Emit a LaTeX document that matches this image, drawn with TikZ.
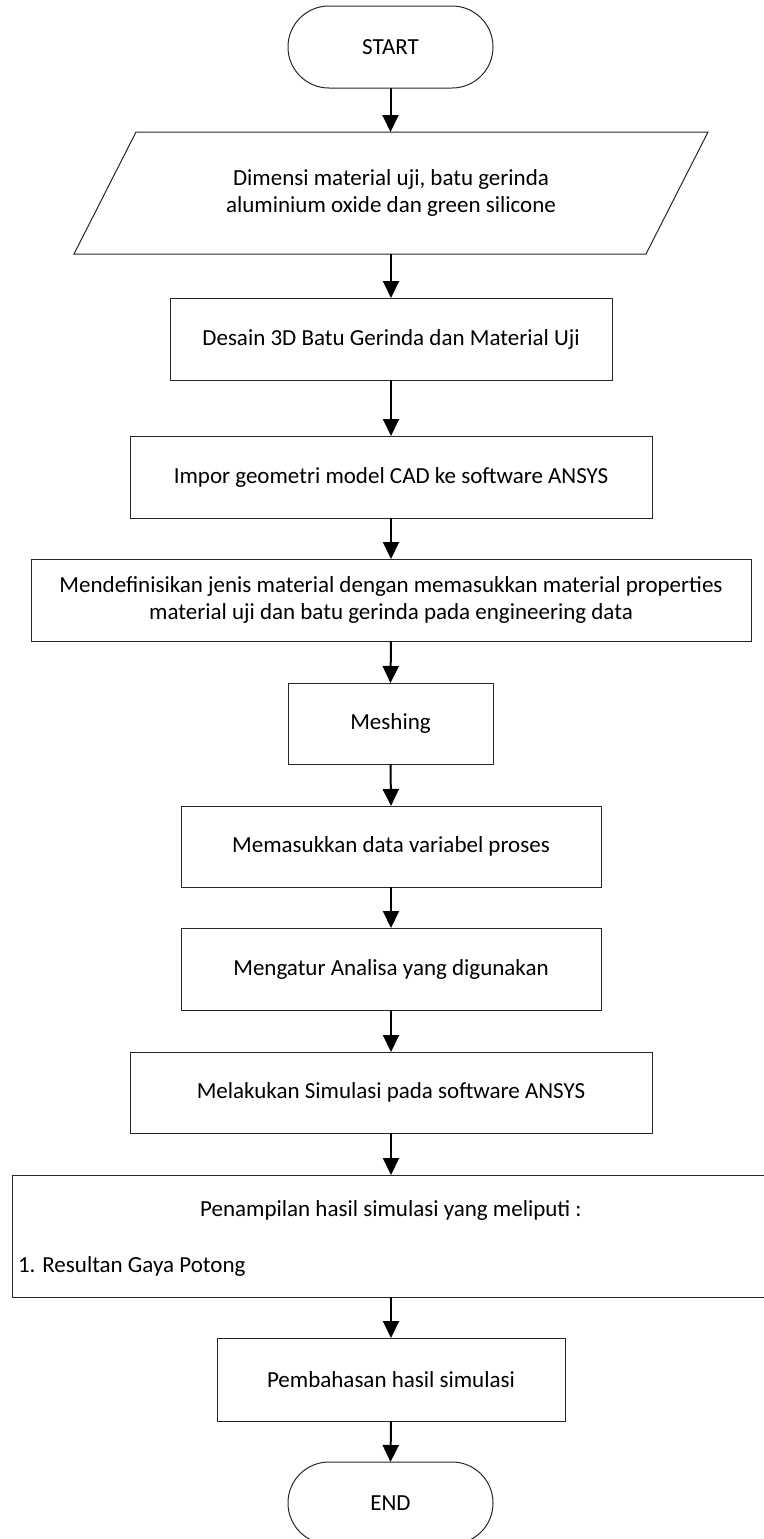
\documentclass[tikz,border=0pt]{standalone}
\usepackage{fontspec}
\setmainfont{Carlito}
\usetikzlibrary{arrows.meta}
\begin{document}
\begin{tikzpicture}[x=1pt,y=-1pt,
  txt/.style={inner sep=0pt, outer sep=0pt, font=\fontsize{23}{27}\selectfont},
  outline/.style={draw=black!85, line width=1pt},
  box/.style={txt, outline, rectangle, align=center},
  term/.style={box, rounded corners=40.9pt, minimum width=205pt, minimum height=82pt},
  io/.style={txt, align=center, rectangle, minimum width=634pt, minimum height=122pt},
  flow/.style={line width=2pt, -{Triangle[length=17pt,width=16pt]}}
]
\useasboundingbox (0,0) rectangle (763,1539);

\node[term] (start) at (390.5,47) {START};
\node[io] (input) at (391,193) {Dimensi material uji, batu gerinda\\aluminium oxide dan green silicone};
\draw[outline] ([xshift=62pt]input.north west) -- (input.north east) -- ([xshift=-62pt]input.south east) -- (input.south west) -- cycle;
\node[box, minimum width=442pt, minimum height=82pt] (desain) at (391,339) {Desain 3D Batu Gerinda dan Material Uji};
\node[box, minimum width=522pt, minimum height=82pt] (impor) at (391,477) {Impor geometri model CAD ke software ANSYS};
\node[box, minimum width=720pt, minimum height=82pt] (mendef) at (391,600) {Mendefinisikan jenis material dengan memasukkan material properties\\material uji dan batu gerinda pada engineering data};
\node[box, minimum width=205pt, minimum height=81pt] (mesh) at (390.5,723.5) {Meshing};
\node[box, minimum width=420pt, minimum height=81pt] (masuk) at (391,846.5) {Memasukkan data variabel proses};
\node[box, minimum width=420pt, minimum height=82pt] (atur) at (391,969) {Mengatur Analisa yang digunakan};
\node[box, minimum width=522pt, minimum height=81pt] (simul) at (391,1092.5) {Melakukan Simulasi pada software ANSYS};
\node[box, minimum width=758pt, minimum height=122pt] (tampil) at (391,1236) {};
\node[txt] (tampil1) at (391,1210) {Penampilan hasil simulasi yang meliputi :};
\node[txt, anchor=west] (tampil2) at (18,1266) {1. Resultan Gaya Potong};
\node[box, minimum width=348pt, minimum height=83pt] (bahas) at (391,1379.5) {Pembahasan hasil simulasi};
\node[term] (end) at (390.5,1503) {END};

\draw[flow] (start.south) -- (start.south |- input.north);
\draw[flow] (desain.north |- input.south) -- (desain.north);
\draw[flow] (desain.south) -- (impor.north);
\draw[flow] (impor.south) -- (mendef.north);
\draw[flow] (mendef.south) -- (mesh.north);
\draw[flow] (mesh.south) -- (masuk.north);
\draw[flow] (masuk.south) -- (atur.north);
\draw[flow] (atur.south) -- (simul.north);
\draw[flow] (simul.south) -- (tampil.north);
\draw[flow] (tampil.south) -- (bahas.north);
\draw[flow] (bahas.south) -- (end.north);
\end{tikzpicture}
\end{document}
